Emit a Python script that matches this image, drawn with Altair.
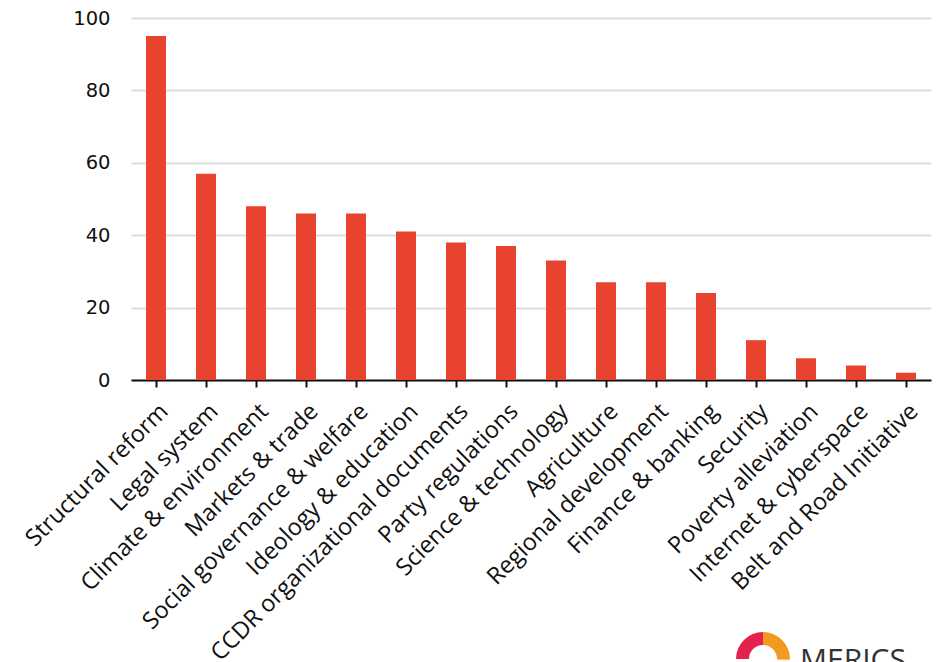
import altair as alt
import pandas as pd

categories = [
    "Structural reform", "Legal system", "Climate & environment", "Markets & trade",
    "Social governance & welfare", "Ideology & education", "CCDR organizational documents",
    "Party regulations", "Science & technology", "Agriculture", "Regional development",
    "Finance & banking", "Security", "Poverty alleviation", "Internet & cyberspace",
    "Belt and Road Initiative",
]
values = [95, 57, 48, 46, 46, 41, 38, 37, 33, 27, 27, 24, 11, 6, 4, 2]

df = pd.DataFrame({"category": categories, "value": values})

FONT = "Open Sans"

bars = alt.Chart(df).mark_bar(color="#E8432E").encode(
    x=alt.X("category:N", sort=categories, title=None,
            scale=alt.Scale(paddingInner=0.6, paddingOuter=0.3),
            axis=alt.Axis(labelAngle=-45, labelFontSize=23.5, labelFont=FONT,
                          labelColor="#111", domainColor="#111", domainWidth=2,
                          tickColor="#111", tickWidth=2, tickSize=7, labelPadding=12,
                          grid=False, labelLimit=500)),
    y=alt.Y("value:Q", title=None, scale=alt.Scale(domain=[0, 100]),
            axis=alt.Axis(values=[0, 20, 40, 60, 80, 100], labelFontSize=19.5,
                          labelFont="DejaVu Sans",
                          labelColor="#111", domain=False, ticks=False, labelPadding=21,
                          gridColor="#DDDDDD", gridWidth=2)),
)

logo_left = alt.Chart(df.head(1)).mark_arc(color="#E5214F").encode(
    x=alt.value(632), y=alt.value(641), theta=alt.value(4.71), theta2=alt.value(6.2832),
    radius=alt.value(27), radius2=alt.value(14))
logo_right = alt.Chart(df.head(1)).mark_arc(color="#F29A1F").encode(
    x=alt.value(632), y=alt.value(641), theta=alt.value(0), theta2=alt.value(1.6),
    radius=alt.value(27), radius2=alt.value(14))
logo_text = alt.Chart(df.head(1)).mark_text(
    text="MERICS", font=FONT, fontSize=30, color="#333", align="left", baseline="alphabetic"
).encode(x=alt.value(669), y=alt.value(652))

chart = alt.layer(bars, logo_left, logo_right, logo_text).properties(
    width=800, height=362,
    autosize=alt.AutoSizeParams(type="none"),
    padding={"left": 123, "top": 10, "right": 1, "bottom": 282},
).configure_view(stroke=None)

chart.save("out.html", embed_options={"renderer": "svg", "actions": False})
